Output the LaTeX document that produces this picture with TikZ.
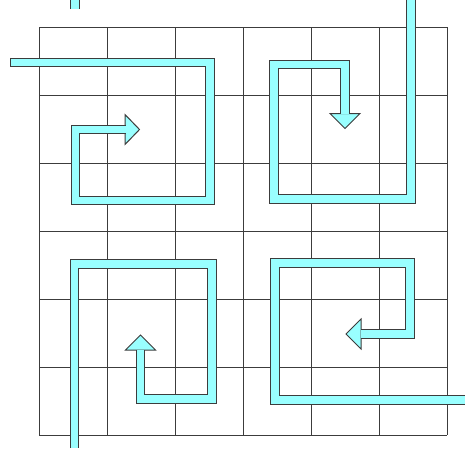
\documentclass[tikz,border=0pt]{standalone}
\usepackage{tikz}

\definecolor{bandcyan}{RGB}{153,255,255}
\definecolor{linegray}{RGB}{60,60,60}

\begin{document}
\begin{tikzpicture}[
  x=1pt, y=-1pt,
  gridline/.style={draw=linegray, line width=1pt},
  band/.style={
    draw=linegray,
    line width=1pt,
    double=bandcyan,
    double distance=7.5pt,
    line join=miter
  },
  head/.style={
    draw=linegray,
    fill=bandcyan,
    line width=1pt,
    line join=miter
  }
]
\useasboundingbox (0,0) rectangle (465,448);

% --- GRID ----------------------------------------------------------
\foreach \i in {0,...,6} {
  \draw[gridline] (39+68*\i,27) -- (39+68*\i,435);
  \draw[gridline] (39,27+68*\i) -- (447,27+68*\i);
}

% --- TOP LEFT ------------------------------------------------------
\draw[head] (125,114.5) -- (139.5,129.5) -- (125,144.5) -- cycle;
\draw[band] (10,62.5) -- (210,62.5) -- (210,200.5) -- (75.5,200.5)
  -- (75.5,129.5) -- (125.5,129.5);
\draw[gridline] (10,57.75) -- (10,67.25);
\draw[band] (75,0) -- (75,9);

% --- TOP RIGHT -----------------------------------------------------
\draw[head] (330,113.5) -- (345,128.5) -- (360,113.5) -- cycle;
\draw[band] (411,0) -- (411,199) -- (274,199) -- (274,64.5)
  -- (345,64.5) -- (345,114);

% --- BOTTOM LEFT ---------------------------------------------------
\draw[head] (125.5,350) -- (140.5,335) -- (155.5,350) -- cycle;
\draw[band] (74.5,448) -- (74.5,264) -- (212,264) -- (212,399)
  -- (140.5,399) -- (140.5,349.5);

% --- BOTTOM RIGHT --------------------------------------------------
\draw[head] (361,319) -- (346,334) -- (361,349) -- cycle;
\draw[band] (465,400) -- (275,400) -- (275,263) -- (410,263)
  -- (410,334) -- (360.5,334);

\end{tikzpicture}
\end{document}
